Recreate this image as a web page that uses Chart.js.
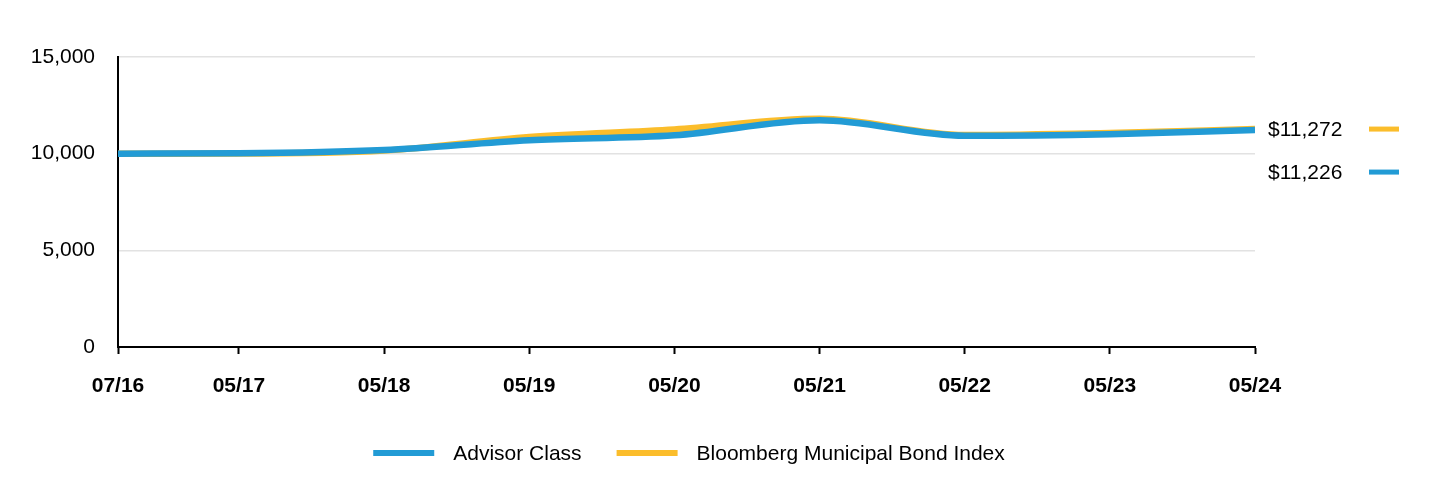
<!DOCTYPE html>
<html>
<head>
<meta charset="utf-8">
<script src="https://cdn.jsdelivr.net/npm/chart.js@4.4.1/dist/chart.umd.min.js"></script>
<style>
  html, body { margin: 0; padding: 0; background: #ffffff; }
  #wrap { width: 1440px; height: 492px; position: relative; }
</style>
</head>
<body>
<div id="wrap"><canvas id="c" width="1440" height="492"></canvas></div>
<script>
// Months since 07/16 for each data point / tick
const monthOffsets = [0, 10, 22, 34, 46, 58, 70, 82, 94];
const tickLabels = ["07/16", "05/17", "05/18", "05/19", "05/20", "05/21", "05/22", "05/23", "05/24"];
const seriesNames = ["Advisor Class", "Bloomberg Municipal Bond Index"];
const advisorValues = [10000, 10020, 10190, 10700, 10950, 11730, 10930, 11010, 11226];
const indexValues   = [10000, 10005, 10160, 10860, 11250, 11800, 10960, 11070, 11272];
const yTicks = [0, 5000, 10000, 15000];

const BLUE = "#229bd5";
const ORANGE = "#fbbd2b";
const FONT = "'Liberation Sans', Arial, sans-serif";
const FS = 21;

function toPoints(vals) { return vals.map((v, i) => ({ x: monthOffsets[i], y: v })); }
function fmt(v) { return v.toLocaleString("en-US"); }

const endLabels = {
  id: "endLabels",
  afterDatasetsDraw(chart) {
    const ctx = chart.ctx;
    const ys = chart.scales.y;
    const items = chart.data.datasets.map(ds => ({
      v: ds.data[ds.data.length - 1].y, color: ds.borderColor
    })).sort((a, b) => b.v - a.v);
    let prev = null;
    ctx.save();
    ctx.font = FS + "px " + FONT;
    ctx.textBaseline = "middle";
    ctx.textAlign = "left";
    items.forEach(it => {
      let y = ys.getPixelForValue(it.v);
      if (prev !== null && y < prev + 43) y = prev + 43;
      prev = y;
      ctx.fillStyle = "#000";
      ctx.fillText("$" + fmt(it.v), 1268, y + 1);
      ctx.fillStyle = it.color;
      ctx.fillRect(1369, y - 2.5, 30, 5);
    });
    ctx.restore();
  }
};

const customLegend = {
  id: "customLegend",
  afterDraw(chart) {
    const ctx = chart.ctx;
    ctx.save();
    ctx.font = FS + "px " + FONT;
    ctx.textBaseline = "middle";
    const boxW = 61, gap = 19, itemGap = 35;
    const ds = chart.data.datasets;
    let total = 0;
    ds.forEach((d, i) => {
      total += boxW + gap + ctx.measureText(d.label).width;
      if (i < ds.length - 1) total += itemGap;
    });
    let x = 689 - total / 2;
    const y = 453;
    ds.forEach(d => {
      ctx.fillStyle = d.borderColor;
      ctx.fillRect(x, y - 3, boxW, 6);
      x += boxW + gap;
      ctx.fillStyle = "#000";
      ctx.fillText(d.label, x, y + 1);
      x += ctx.measureText(d.label).width + itemGap;
    });
    ctx.restore();
  }
};

new Chart(document.getElementById("c"), {
  type: "line",
  data: {
    datasets: [
      { label: seriesNames[0], data: toPoints(advisorValues), borderColor: BLUE, backgroundColor: BLUE,
        borderWidth: 6.5, pointRadius: 0, cubicInterpolationMode: "monotone", order: 0 },
      { label: seriesNames[1], data: toPoints(indexValues), borderColor: ORANGE, backgroundColor: ORANGE,
        borderWidth: 6.5, pointRadius: 0, cubicInterpolationMode: "monotone", order: 1 }
    ]
  },
  options: {
    responsive: false,
    animation: false,
    devicePixelRatio: 1,
    layout: { padding: { left: 0, right: 185, top: 57, bottom: 95 } },
    plugins: { legend: { display: false }, tooltip: { enabled: false } },
    scales: {
      x: {
        type: "linear",
        min: monthOffsets[0],
        max: monthOffsets[monthOffsets.length - 1],
        afterBuildTicks(scale) { scale.ticks = monthOffsets.map(v => ({ value: v })); },
        afterFit(scale) { scale.height = 50; },
        grid: { display: true, drawOnChartArea: false, drawTicks: true, tickLength: 7, tickWidth: 2, tickColor: "#000" },
        border: { display: true, color: "#000", width: 2 },
        ticks: {
          autoSkip: false, maxRotation: 0, padding: 20, color: "#000",
          font: { family: FONT, size: FS, weight: "bold" },
          callback(v) { const i = monthOffsets.indexOf(v); return i >= 0 ? tickLabels[i] : ""; }
        }
      },
      y: {
        min: 0, max: 15000,
        afterBuildTicks(scale) { scale.ticks = yTicks.map(v => ({ value: v })); },
        afterFit(scale) { scale.width = 118; },
        grid: { color: "#e2e2e2", lineWidth: 1.5, drawTicks: false },
        border: { display: true, color: "#000", width: 2 },
        ticks: { padding: 23, color: "#000", font: { family: FONT, size: FS }, callback: v => fmt(v) }
      }
    }
  },
  plugins: [endLabels, customLegend]
});
</script>
</body>
</html>
